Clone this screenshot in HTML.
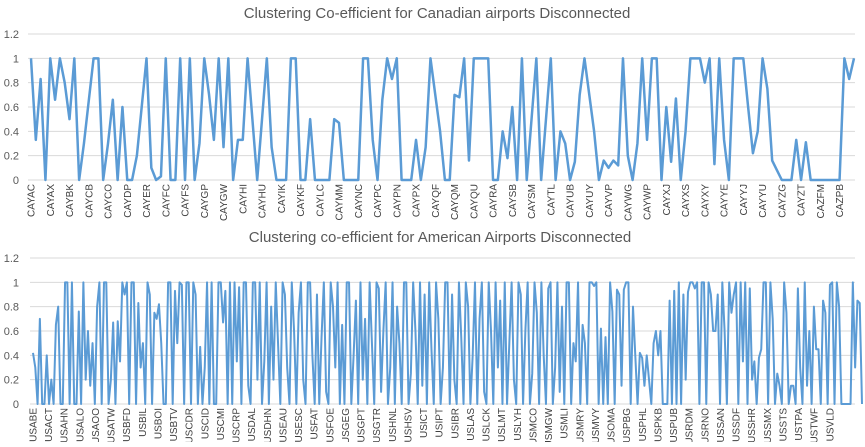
<!DOCTYPE html>
<html><head><meta charset="utf-8"><style>
body{margin:0;background:#fff;width:865px;height:442px;overflow:hidden;font-family:"Liberation Sans",sans-serif}
svg text{font-family:"Liberation Sans",sans-serif}
</style></head><body>
<svg id="chart" width="865" height="442" xmlns="http://www.w3.org/2000/svg">
<text x="437" y="18" text-anchor="middle" font-size="15" fill="#595959">Clustering Co-efficient for Canadian airports Disconnected</text>
<text x="440" y="242" text-anchor="middle" font-size="15" fill="#595959">Clustering co-efficient for American Airports Disconnected</text>
<g id="top"></g>
<g id="bot"></g>
</svg>
<script>
const caLabels=["CAYAC","CAYAX","CAYBK","CAYCB","CAYCO","CAYDP","CAYER","CAYFC","CAYFS","CAYGP","CAYGW","CAYHI","CAYHU","CAYIK","CAYKF","CAYLC","CAYMM","CAYNC","CAYPC","CAYPN","CAYPX","CAYQF","CAYQM","CAYQU","CAYRA","CAYSB","CAYSM","CAYTL","CAYUB","CAYUY","CAYVP","CAYWG","CAYWP","CAYXJ","CAYXS","CAYXY","CAYYE","CAYYJ","CAYYU","CAYZG","CAYZT","CAZFM","CAZPB"];
const caValues=[1,0.33,0.83,0,1,0.66,1,0.8,0.5,1,
0,0.3,0.65,1,1,0,0.3,0.66,0,0.6,
0,0,0.2,0.6,1,0.1,0,0.03,1,0,
0,1,0,1,0,0.3,1,0.7,0.33,1,
0.27,1,0,0.33,0.33,1,0.5,0,0.5,1,
0.27,0,0,0,1,1,0,0,0.5,0,
0,0,0,0.5,0.47,0,0,0,0,1,
1,0.33,0,0.66,1,0.83,1,0,0,0,
0.33,0,0.27,1,
0.7,0.4,0,0,0.7,0.68,1,0.16,1,1,
1,1,0,0,0.4,0.18,0.6,0,1,0,
0.5,1,0,0.5,1,0,0.4,0.3,0,0.15,
0.7,1,0.7,0.4,0,0.16,0.1,0.16,0.12,1,
0.2,0,0.3,1,0.33,1,1,0,0.6,0.15,
0.67,0,0.4,1,1,1,0.8,1,0.13,1,
0.33,0,1,1,1,0.6,0.22,0.4,1,0.75,
0.16,0.08,0,0,0,0.33,0,0.31,0,0,
0,0,0,0,0,1,0.83,1];
const usLabels=["USABE","USACT","USAHN","USALO","USAOO","USATW","USBFD","USBIL","USBOI","USBTV","USCDR","USCID","USCMI","USCRP","USDAL","USDHN","USEAU","USESC","USFAT","USFOE","USGEG","USGPT","USGTR","USHNL","USHSV","USICT","USIPT","USIBR","USLAS","USLCK","USLMT","USLYH","USMCO","USMGW","USMLI","USMRY","USMVY","USOMA","USPBG","USPHL","USPKB","USPUB","USRDM","USRNO","USSAN","USSDF","USSHR","USSMX","USSTS","USTPA","USTWF","USVLD"];
const usValues=[0.42,0.3,0,0.7,0,0,0.4,0,0.2,0,0.65,0.8,0,0,1,1,0,1,0,0,0.76,0,1,0.2,0.6,0.15,0.5,0,0.8,1,0,1,1,0,0.2,0.67,0,0.68,0.35,1,0.9,1,0,1,1,0,0.83,0.3,0.5,0,1,0.9,0,0.75,0.7,0.82,0.5,0,0,1,1,0,0.93,0.5,1,0.98,0,1,1,0,1,0.9,0,0.47,0,0.3,1,0,1,0,0,1,1,0.67,0.93,0,1,0,1,0.35,0.96,0,1,1,0.15,0,1,1,0.2,1,0,0.35,
1,0,0.8,0.2,1,0.5,0,1,0.9,0.3,0,1,0.6,0,0.75,1,0.2,0,1,1,0.4,0,0.9,0,0.55,1,0.1,0,1,0.8,0.3,1,0,0.65,0,1,1,0,0.4,0.85,0,1,0.2,0.7,0,1,0.5,0,1,0.95,
0.1,0.6,1,0,0.3,1,0,0.8,0.5,0,1,1,0,0.25,1,0.6,0,1,0.15,0.9,0,1,0.45,0,1,0.7,0,0.3,1,1,0,0.9,0.2,0,1,0.55,0,1,0.8,0,0.4,1,0,0.7,1,0.1,0,1,0.6,0,
1,0.3,0.85,0,1,0,0.5,1,0.2,0,1,0.9,0,0.6,1,0,0.25,1,0.75,0,1,0.4,0,0.95,1,0,0.3,1,0.1,0.8,0,1,1,0,0.5,0.35,1,0,0.65,0.5,0,1,1,0.97,1,0,0.62,0,0.55,0,
1,0.76,0,0.94,0.9,0.15,0.94,1,1,0,0.8,0.4,0,0.42,0.38,0.15,0.4,0.2,0,0.5,0.6,0.4,0.6,0,0,0,0.85,0,0.93,0,1,0,0.9,0.2,0.92,1,1,0.95,1,0,1,1,0,1,0.9,0.6,0.6,0.9,0,1,
0.6,0,1,0.75,0.9,1,0,1,0.35,1,0,0.95,0.2,0.35,0,0.38,0.45,1,1,0,1,0.7,0,0.25,0.15,0,1,0.75,0,0.15,0.15,0,0.95,0.3,0,1,0.15,0.6,0,0.8,0.45,0.45,0,0.85,0.75,0,0.98,1,0,1,
0.8,0,0,0,0,0,1,0.3,0.85,0.83,0];
const fmt=v=>v===0?"0":String(v);
function draw(gid,values,labels,x0,x1,yZero,yMax,lw,every,fs){
  const g=document.getElementById(gid);
  const ns="http://www.w3.org/2000/svg";
  const x=i=>x0+(x1-x0)*i/(values.length-1);
  const y=v=>yZero-(yZero-yMax)*v/1.2;
  const ticks=[0,0.2,0.4,0.6,0.8,1,1.2];
  ticks.forEach(t=>{
    const l=document.createElementNS(ns,"line");
    
    
    l.setAttribute("x1",x0-3);l.setAttribute("x2",855);l.setAttribute("y1",y(t));l.setAttribute("y2",y(t));
    l.setAttribute("stroke","#d9d9d9");l.setAttribute("stroke-width","1");g.appendChild(l);
    const tx=document.createElementNS(ns,"text");
    
    
    tx.setAttribute("x",19);tx.setAttribute("y",y(t)+4);tx.setAttribute("text-anchor","end");
    tx.setAttribute("font-size","11");tx.setAttribute("fill","#595959");tx.textContent=fmt(t);g.appendChild(tx);
  });
  labels.forEach((lb,k)=>{
    const i=k*every; if(i>=values.length) return;
    const tx=document.createElementNS(ns,"text");
    
    
    const px=x(i)+3.5, py=yZero+4;
    tx.setAttribute("transform",`translate(${px},${py}) rotate(-90)`);
    tx.setAttribute("text-anchor","end");tx.setAttribute("font-size",fs);tx.setAttribute("fill","#404040");
    tx.textContent=lb;g.appendChild(tx);
  });
  const p=document.createElementNS(ns,"polyline");
  
  
  p.setAttribute("points",values.map((v,i)=>x(i).toFixed(2)+","+y(v).toFixed(2)).join(" "));
  p.setAttribute("fill","none");p.setAttribute("stroke","#5b9bd5");p.setAttribute("stroke-width",lw);
  p.setAttribute("stroke-linejoin","round");g.appendChild(p);
}
draw("top",caValues,caLabels,31,854,180,34,2.5,4,"10");
draw("bot",usValues,usLabels,33,862,404,258,2,(usValues.length-1)*0.98/52,"10");
</script>
</body></html>
